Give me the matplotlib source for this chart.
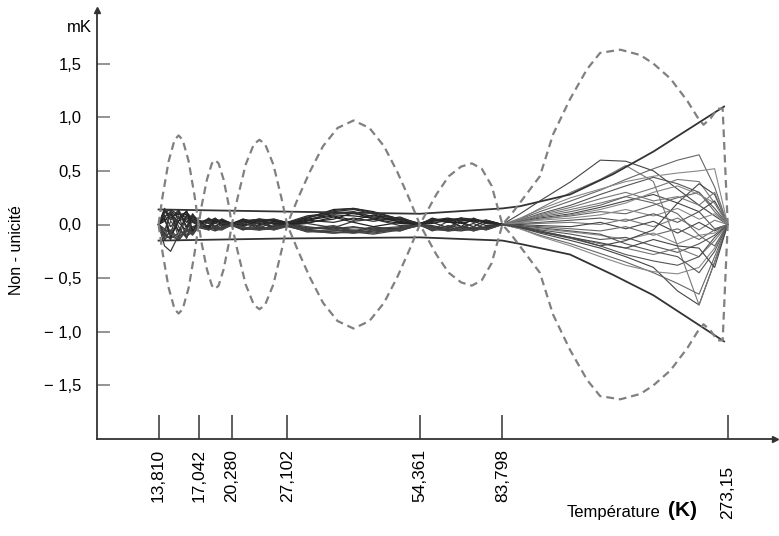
import matplotlib
matplotlib.use('Agg')
import matplotlib.pyplot as plt
import matplotlib.ticker as mticker
import matplotlib.transforms as mtransforms

plt.rcParams['font.family'] = ['Liberation Sans', 'DejaVu Sans']

# fixed points (K) and their labels
fixed_T = [13.810, 17.042, 20.280, 27.102, 54.361, 83.798, 273.15]
fixed_labels = ['13,810', '17,042', '20,280', '27,102', '54,361', '83,798', '273,15']

y_ticks = [1.5, 1.0, 0.5, 0.0, -0.5, -1.0, -1.5]
y_labels = ['1,5', '1,0', '0,5', '0,0', '\u2212 0,5', '\u2212 1,0', '\u2212 1,5']

# dashed bound (upper half, lower half is its mirror)
dash_T = [13.81, 14.10, 14.56, 15.02, 15.34, 15.67, 16.17, 16.69, 17.042,
          17.34, 17.80, 18.27, 18.59, 18.92, 19.42, 19.93, 20.28,
          20.88, 21.81, 22.77, 23.44, 24.14, 25.21, 26.33, 27.102,
          28.66, 30.51, 32.71, 35.31, 38.39, 41.73, 45.05, 48.30, 51.42, 54.361,
          56.76, 59.27, 63.25, 67.50, 71.41, 75.21, 79.22, 83.798,
          87.6, 91.8, 102.0, 109.3, 119.5, 130.7, 139.9, 155.5, 172.7, 185.0,
          202.3, 221.2, 233.1, 240.6, 249.7, 259.0, 266.0, 273.15]
dash_up = [0, 0.26, 0.59, 0.79, 0.83, 0.79, 0.59, 0.26, 0,
           0.19, 0.42, 0.57, 0.60, 0.57, 0.42, 0.19, 0,
           0.24, 0.56, 0.75, 0.79, 0.75, 0.56, 0.24, 0,
           0.24, 0.49, 0.73, 0.90, 0.97, 0.90, 0.73, 0.49, 0.24, 0,
           0.14, 0.28, 0.45, 0.54, 0.57, 0.52, 0.36, 0,
           0.09, 0.20, 0.45, 0.84, 1.17, 1.45, 1.60, 1.63, 1.58, 1.50,
           1.36, 1.15, 1.00, 0.93, 0.99, 1.08, 1.08, 0]

# solid envelope lines
env_T = [13.81, 27.102, 54.361, 83.798, 91.8, 119.5, 149.8, 185.0, 268.0]
env_up = [0.14, 0.12, 0.10, 0.15, 0.17, 0.28, 0.47, 0.68, 1.10]
env_lo = [-0.15, -0.13, -0.12, -0.15, -0.18, -0.28, -0.47, -0.66, -1.09]

# individual curves, low temperature part
low_T = [13.81, 14.25, 14.71, 15.34, 16.0, 16.51, 17.042, 17.96, 18.59, 19.25,
         20.28, 21.5, 23.44, 25.3, 27.102, 30.09, 34.58, 38.39, 42.61, 48.98,
         54.361, 58.0, 63.0, 67.5, 72.0, 77.0, 83.798]
low_curves = [
    [0, 0.12, 0.08, 0.10, 0.06, 0.04, 0.01, 0.04, 0.05, 0.03, 0.00, 0.03, 0.05, 0.03, 0.01, 0.05, 0.09, 0.08, 0.06, 0.03, 0.00, 0.03, 0.05, 0.05, 0.04, 0.02, 0],
    [0, -0.10, -0.13, -0.08, -0.07, -0.03, -0.01, -0.04, -0.06, -0.03, 0.01, -0.03, -0.04, -0.04, 0.00, -0.05, -0.07, -0.08, -0.06, -0.04, 0.00, -0.04, -0.05, -0.06, -0.04, -0.02, 0],
    [0, 0.05, -0.08, 0.13, -0.04, 0.07, 0.02, -0.03, 0.04, -0.02, 0.00, 0.04, -0.03, 0.02, 0.00, 0.03, 0.12, 0.14, 0.10, 0.04, 0.00, 0.02, -0.03, 0.04, 0.03, -0.01, 0],
    [0, -0.06, 0.11, -0.12, 0.08, -0.05, -0.02, 0.05, -0.03, 0.04, 0.00, -0.02, 0.04, -0.03, 0.01, -0.02, -0.05, -0.03, -0.04, -0.02, 0.00, -0.05, 0.03, -0.02, -0.05, 0.02, 0],
    [0, 0.14, 0.13, 0.06, 0.10, 0.05, 0.03, 0.02, 0.03, 0.04, 0.01, 0.05, 0.02, 0.04, 0.02, 0.06, 0.14, 0.15, 0.12, 0.05, 0.01, 0.04, 0.06, 0.03, 0.05, 0.03, 0],
    [0, -0.20, -0.25, -0.10, -0.09, -0.06, -0.03, -0.05, -0.02, -0.04, -0.01, -0.05, -0.02, -0.05, -0.01, -0.07, -0.06, -0.05, -0.07, -0.05, -0.01, -0.02, -0.06, -0.04, -0.03, -0.04, 0],
    [0, 0.09, -0.02, 0.06, 0.12, 0.02, -0.01, 0.06, 0.02, 0.05, 0.00, 0.01, 0.05, 0.04, -0.01, 0.04, 0.02, 0.06, 0.03, 0.07, 0.00, 0.05, 0.02, 0.06, 0.02, 0.04, 0],
    [0, -0.12, 0.03, -0.05, -0.11, -0.07, 0.01, -0.02, -0.05, -0.05, 0.00, -0.04, -0.05, -0.01, 0.01, -0.04, -0.01, -0.06, -0.02, -0.06, 0.00, -0.03, -0.02, -0.05, -0.03, -0.05, 0],
    [0, 0.03, 0.10, 0.02, -0.06, 0.09, 0.04, 0.01, -0.02, 0.02, 0.01, 0.02, 0.01, -0.02, 0.01, 0.01, 0.07, 0.02, -0.02, 0.02, 0.00, 0.01, 0.04, -0.02, 0.06, 0.01, 0],
    [0, -0.04, -0.09, 0.04, 0.05, -0.08, -0.03, -0.01, 0.01, -0.01, -0.01, 0.00, -0.01, 0.02, -0.01, 0.01, -0.03, 0.03, 0.05, -0.01, 0.00, -0.01, -0.04, 0.02, -0.06, -0.02, 0],
    [0, 0.15, 0.06, 0.11, 0.02, 0.08, 0.02, 0.03, 0.06, 0.01, 0.00, 0.03, 0.04, 0.05, 0.02, 0.08, 0.11, 0.10, 0.08, 0.06, 0.01, 0.04, 0.03, 0.05, 0.04, 0.03, 0],
    [0, -0.15, -0.05, -0.13, -0.03, -0.09, -0.02, -0.03, -0.04, -0.02, 0.00, -0.03, -0.03, -0.05, -0.02, -0.06, -0.08, -0.07, -0.09, -0.05, -0.01, -0.05, -0.04, -0.05, -0.05, -0.03, 0],
    [0, 0.07, 0.12, -0.07, 0.09, 0.03, 0.00, -0.04, 0.03, 0.04, 0.01, -0.01, 0.03, 0.01, 0.00, 0.02, 0.05, 0.11, 0.05, 0.01, 0.00, 0.06, 0.02, 0.02, -0.02, 0.04, 0],
    [0, -0.08, -0.14, 0.08, -0.12, -0.02, 0.00, 0.03, -0.04, -0.03, 0.00, 0.02, -0.04, -0.02, 0.00, -0.03, -0.04, -0.02, -0.05, -0.03, 0.00, -0.06, -0.01, -0.03, 0.01, -0.04, 0],
    [0, 0.11, 0.14, 0.09, 0.11, 0.06, 0.02, 0.05, 0.01, 0.05, 0.01, 0.04, 0.03, 0.05, 0.01, 0.07, 0.10, 0.12, 0.07, 0.04, 0.01, 0.05, 0.04, 0.06, 0.03, 0.04, 0],
    [0, -0.13, -0.11, -0.14, -0.06, -0.08, -0.01, -0.05, -0.03, -0.05, 0.00, -0.04, -0.05, -0.03, -0.01, -0.06, -0.05, -0.08, -0.05, -0.06, 0.00, -0.05, -0.05, -0.03, -0.06, -0.03, 0],
    [0, 0.06, -0.12, 0.03, 0.13, -0.06, 0.03, -0.02, 0.05, 0.00, 0.00, 0.05, 0.00, 0.03, 0.01, 0.04, 0.08, 0.04, 0.09, 0.02, 0.00, 0.03, 0.05, 0.01, 0.04, 0.02, 0],
    [0, -0.09, 0.13, -0.02, -0.13, 0.06, -0.02, 0.02, -0.05, 0.01, 0.00, -0.05, 0.02, -0.04, -0.01, -0.05, -0.02, -0.07, -0.03, -0.04, 0.00, -0.02, -0.05, -0.02, -0.04, -0.03, 0],
    [0, 0.13, 0.04, 0.14, -0.02, 0.10, 0.01, 0.04, 0.04, 0.02, 0.01, 0.03, 0.05, 0.00, 0.01, 0.06, 0.13, 0.15, 0.11, 0.05, 0.00, 0.04, 0.02, 0.06, 0.05, 0.01, 0],
    [0, -0.11, -0.07, -0.15, -0.05, -0.10, -0.02, -0.05, -0.01, -0.04, 0.00, -0.02, -0.05, -0.04, 0.00, -0.06, -0.08, -0.06, -0.08, -0.04, 0.00, -0.04, -0.06, -0.05, -0.02, -0.05, 0],
]

# individual curves, 83.798 K to 273.15 K
fan_T = [83.798, 92, 102, 120, 140, 160, 185, 210, 235, 255, 273.15]
fan_curves = [
    [0, 0.10, 0.22, 0.40, 0.60, 0.59, 0.50, 0.33, 0.18, 0.08, 0],
    [0, 0.05, 0.12, 0.22, 0.32, 0.42, 0.52, 0.60, 0.65, 0.35, 0],
    [0, 0.06, 0.14, 0.25, 0.33, 0.40, 0.45, 0.48, 0.50, 0.52, 0],
    [0, 0.04, 0.10, 0.18, 0.28, 0.36, 0.44, 0.38, 0.30, 0.15, 0],
    [0, 0.03, 0.08, 0.14, 0.20, 0.26, 0.34, 0.42, 0.40, 0.20, 0],
    [0, 0.03, 0.06, 0.10, 0.16, 0.22, 0.28, 0.20, 0.12, 0.22, 0],
    [0, 0.02, 0.05, 0.08, 0.12, 0.10, 0.18, 0.25, 0.30, 0.12, 0],
    [0, 0.02, 0.04, 0.06, 0.09, 0.14, 0.08, 0.15, 0.05, 0.10, 0],
    [0, 0.01, 0.02, 0.04, 0.06, 0.03, 0.10, 0.02, 0.12, -0.04, 0],
    [0, 0.01, 0.01, 0.02, 0.00, 0.05, -0.02, 0.06, -0.05, 0.04, 0],
    [0, 0.00, -0.01, -0.02, 0.02, -0.04, 0.03, -0.08, 0.02, -0.06, 0],
    [0, -0.01, -0.02, -0.04, -0.06, -0.02, -0.10, -0.04, -0.14, -0.05, 0],
    [0, -0.02, -0.04, -0.07, -0.10, -0.14, -0.08, -0.18, -0.10, -0.08, 0],
    [0, -0.02, -0.05, -0.09, -0.14, -0.12, -0.20, -0.26, -0.18, -0.10, 0],
    [0, -0.03, -0.06, -0.12, -0.18, -0.22, -0.28, -0.22, -0.30, -0.15, 0],
    [0, -0.03, -0.08, -0.15, -0.22, -0.30, -0.40, -0.62, -0.75, -0.35, 0],
    [0, -0.04, -0.10, -0.18, -0.27, -0.35, -0.45, -0.55, -0.65, -0.30, 0],
    [0, -0.04, -0.11, -0.20, -0.30, -0.38, -0.44, -0.46, -0.40, -0.22, 0],
    [0, -0.02, -0.07, -0.13, -0.20, -0.28, -0.34, -0.38, -0.30, -0.12, 0],
    [0, 0.05, 0.15, 0.30, 0.42, 0.55, 0.40, -0.20, -0.75, -0.35, 0],
    [0, -0.02, -0.06, -0.12, -0.20, -0.15, -0.05, 0.20, 0.38, 0.28, 0],
    [0, 0.03, 0.07, 0.12, 0.18, 0.26, 0.20, 0.10, -0.10, -0.20, 0],
    [0, 0.02, 0.05, 0.09, 0.14, 0.20, 0.30, 0.36, 0.28, 0.20, 0],
    [0, -0.01, -0.03, -0.06, -0.09, -0.18, -0.25, -0.30, -0.45, -0.25, 0],
    [0, 0.04, 0.09, 0.16, 0.24, 0.30, 0.22, 0.26, 0.18, 0.30, 0],
    [0, -0.03, -0.07, -0.12, -0.17, -0.22, -0.14, -0.20, -0.22, -0.40, 0],
]

low_grays = ['#222222', '#3a3a3a', '#2c2c2c', '#444444']
fan_grays = ['#444444', '#666666', '#888888', '#555555', '#777777']

fig = plt.figure(figsize=(7.79, 5.36), dpi=100)
ax = fig.add_axes([97 / 779, 97 / 536, 678 / 779, 429 / 536])

for i, c in enumerate(low_curves):
    ax.plot(low_T, c, color=low_grays[i % len(low_grays)], lw=0.9)
for i, c in enumerate(fan_curves):
    ax.plot(fan_T, c, color=fan_grays[i % len(fan_grays)], lw=0.8)

ax.plot(env_T, env_up, color='#333333', lw=1.3)
ax.plot(env_T, env_lo, color='#333333', lw=1.3)

ax.plot(dash_T, dash_up, color='#808080', lw=1.6, ls=(0, (3.5, 2.2)))
ax.plot(dash_T, [-v for v in dash_up], color='#808080', lw=1.6, ls=(0, (3.5, 2.2)))

ax.set_xscale('log')
ax.set_xlim(10, 350)
ax.set_ylim(-2.0, 2.0)

ax.xaxis.set_major_locator(mticker.FixedLocator(fixed_T))
ax.xaxis.set_minor_locator(mticker.NullLocator())
ax.set_xticklabels(fixed_labels, rotation=90, fontsize=12.5, va='top')
ax.set_yticks(y_ticks)
ax.set_yticklabels(y_labels, fontsize=12)

ax.tick_params(axis='x', direction='in', length=17, width=1.1, color='#333333', pad=7)
ax.tick_params(axis='y', direction='in', length=9, width=1.1, color='#777777', pad=11)

# the 273,15 label sits a little lower in the original
last = ax.get_xticklabels()[-1]
last.set_transform(last.get_transform() +
                   mtransforms.ScaledTranslation(0, -12 / 72, fig.dpi_scale_trans))

for s in ['top', 'right']:
    ax.spines[s].set_visible(False)
for s in ['left', 'bottom']:
    ax.spines[s].set_color('#333333')
    ax.spines[s].set_linewidth(1.3)

ax.plot([1], [0], marker='>', ms=5, color='#333333', transform=ax.transAxes, clip_on=False)
ax.plot([0], [1], marker='^', ms=5, color='#333333', transform=ax.transAxes, clip_on=False)

fig.text(92 / 779, 1 - 28 / 536, 'mK', fontsize=12, ha='right', va='center')
fig.text(17 / 779, 1 - 250 / 536, 'Non - unicité', fontsize=11.5, rotation=90, ha='center', va='center')
fig.text(660 / 779, 1 - 512 / 536, 'Température', fontsize=12, ha='right', va='center')
fig.text(668 / 779, 1 - 511 / 536, '(K)', fontsize=15, fontweight='bold', ha='left', va='center')

fig.savefig('out.png', dpi=100)
